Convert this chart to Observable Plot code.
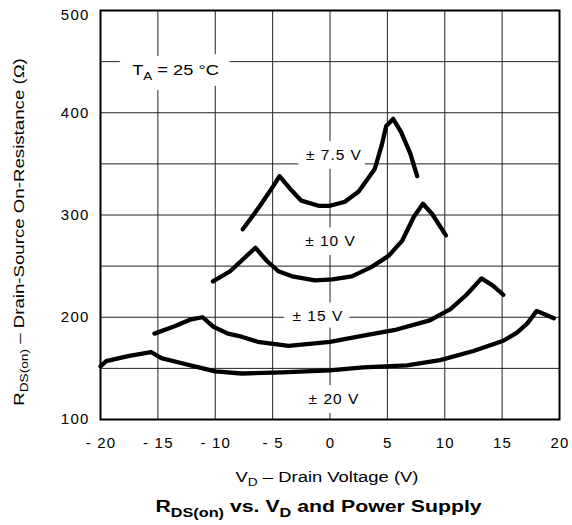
<!DOCTYPE html>
<html>
<head>
<meta charset="utf-8">
<script src="https://cdn.jsdelivr.net/npm/d3@7"></script>
<script src="https://cdn.jsdelivr.net/npm/@observablehq/plot@0.6"></script>
<style>
  body { margin: 0; background: #fff; }
  #chart svg { font-family: "Liberation Sans", Arial, Helvetica, sans-serif; }
</style>
</head>
<body>
<div id="chart"></div>
<script>
// ---- data ----
const v75 = [-7.6, -6.1, -4.9, -4.4, -3.5, -2.5, -1.0, 0.0, 1.3, 2.5, 3.9, 4.5, 4.9, 5.5, 6.2, 7.0, 7.6];
const r75 = [286, 309, 329, 338, 326, 314, 309, 309, 313, 323, 345, 368, 387, 394, 381, 360, 338];

const v10 = [-10.2, -8.7, -6.5, -5.5, -4.5, -3.3, -1.3, 0.2, 1.9, 3.6, 5.1, 6.3, 7.3, 8.1, 8.9, 10.1];
const r10 = [235, 245, 268, 255, 245, 240, 236, 237, 240, 249, 260, 275, 298, 311, 301, 280];

const v15 = [-15.3, -13.6, -12.1, -11.1, -10.2, -8.9, -7.7, -6.3, -3.6, 0.0, 2.9, 5.8, 8.7, 10.5, 11.9, 13.2, 14.2, 15.1];
const r15 = [184, 191, 198, 200, 191, 184, 181, 176, 172, 176, 182, 188, 197, 208, 222, 238, 231, 222];

const v20 = [-20.0, -19.5, -17.6, -15.6, -14.7, -12.9, -11.8, -10.0, -7.7, -4.2, 0.0, 2.9, 6.7, 9.6, 12.5, 15.1, 16.3, 17.2, 18.0, 18.7, 19.5];
const r20 = [152, 157, 162, 166, 160, 155, 152, 147, 145, 146, 148, 151, 153, 158, 167, 177, 185, 194, 206, 203, 199];

const seriesNames = ["± 7.5 V", "± 10 V", "± 15 V", "± 20 V"];
const labelV = [0.3, 0.0, -1.1, 0.3];
const labelR = [359, 275, 201, 120];

const xTicks = [-20, -15, -10, -5, 0, 5, 10, 15, 20];
const yTicks = [100, 200, 300, 400, 500];
const xGrid = [-15, -10, -5, 0, 5, 10, 15];
const yGrid = [150, 200, 250, 300, 350, 400, 450];

const tempLabel = {v: -17.2, r: 436};

// ---- build tables ----
const seriesV = [v75, v10, v15, v20];
const seriesR = [r75, r10, r15, r20];
const rows = seriesNames.flatMap((name, i) =>
  seriesV[i].map((v, j) => ({series: name, v, r: seriesR[i][j]})));
const labels = seriesNames.map((name, i) => ({label: name, v: labelV[i], r: labelR[i]}));

const fmtX = d => d < 0 ? "- " + (-d) : String(d);

const plot = Plot.plot({
  width: 572,
  height: 525,
  marginLeft: 100,
  marginRight: 13,
  marginTop: 10,
  marginBottom: 106,
  x: {domain: [-20, 20]},
  y: {domain: [100, 500]},
  style: {fontFamily: '"Liberation Sans", Arial, sans-serif', fontSize: "15px", color: "#000", background: "#fff"},
  marks: [
    Plot.ruleX(xGrid, {stroke: "#222", strokeWidth: 1}),
    Plot.ruleY(yGrid, {stroke: "#222", strokeWidth: 1}),
    Plot.text(labels, {x: "v", y: "r", text: "label", fill: "#000", stroke: "#fff", strokeWidth: 18,
      strokeLinejoin: "round", paintOrder: "stroke", fontSize: 15.5, dx: 0.5}),
    Plot.line(rows, {x: "v", y: "r", z: "series", stroke: "#000", strokeWidth: 4.3,
      strokeLinejoin: "round", strokeLinecap: "round", curve: "linear"}),
    Plot.frame({stroke: "#000", strokeWidth: 2}),
    Plot.axisX({ticks: xTicks, tickSize: 0, tickPadding: 18, tickFormat: fmtX, fontSize: 15, label: null, dx: 0.5}),
    Plot.axisY({ticks: yTicks.filter(d => d < 500), tickSize: 0, tickPadding: 11, fontSize: 15, label: null}),
    Plot.axisY({ticks: yTicks.filter(d => d === 500), tickSize: 0, tickPadding: 11, fontSize: 15, label: null, dy: 5})
  ]
});

document.getElementById("chart").appendChild(plot);

const svg = d3.select(plot);
const sx = plot.scale("x"), sy = plot.scale("y");

// widen Plot's own texts a little, as in the reference lettering
const xTickSet = new Set(xTicks.map(fmtX));
const yTickSet = new Set(yTicks.map(String));
const labelSet = new Set(seriesNames);
svg.selectAll("text").each(function () {
  const s = this.textContent;
  if (labelSet.has(s)) this.style.letterSpacing = "1px";
  else if (xTickSet.has(s) || yTickSet.has(s)) this.style.letterSpacing = "1.2px";
});

// ---- annotations with subscripts ----
function richText(parent, parts, opts) {
  const g = parent.append("text")
    .attr("x", 0).attr("y", 0)
    .attr("text-anchor", opts.anchor || "start")
    .attr("font-size", opts.size)
    .attr("font-weight", opts.weight || "normal");
  if (opts.halo) {
    g.attr("fill", "none").attr("stroke", "#fff").attr("stroke-width", opts.halo).attr("stroke-linejoin", "round");
  } else {
    g.attr("fill", "#000");
  }
  let shifted = false;
  for (const [s, sub] of parts) {
    const ts = g.append("tspan").text(s);
    if (sub) {
      ts.attr("font-size", opts.subSize);
      if (!shifted) { ts.attr("dy", opts.subDy); shifted = true; }
    } else if (shifted) { ts.attr("dy", -opts.subDy); shifted = false; }
  }
  // stretch to the measured width of the reference lettering
  const w = g.node().getBBox().width;
  const k = opts.width ? opts.width / w : 1;
  g.attr("transform", `${opts.base} scale(${k},1)`);
  return g;
}

// temperature label with white halo behind it
const tParts = [["T", false], ["A", true], [" = 25 °C", false]];
const tBase = `translate(${sx.apply(tempLabel.v)},${sy.apply(tempLabel.r)})`;
const tOpts = {size: 15, subSize: 11, subDy: 5, width: 87, base: tBase};
richText(svg, tParts, {...tOpts, halo: 22});
richText(svg, tParts, tOpts);

// y axis label
richText(svg, [["R", false], ["DS(on)", true], [" – Drain-Source On-Resistance (Ω)", false]],
  {anchor: "middle", size: 15, subSize: 11, subDy: 4, width: 348, base: "translate(24,232) rotate(-90)"});

// x axis label
richText(svg, [["V", false], ["D", true], [" – Drain Voltage (V)", false]],
  {anchor: "middle", size: 15.5, subSize: 11.5, subDy: 4, width: 183, base: "translate(327,482)"});

// title
richText(svg, [["R", false], ["DS(on)", true], [" vs. V", false], ["D", true], [" and Power Supply", false]],
  {anchor: "middle", size: 17, subSize: 13, subDy: 5, weight: "bold", width: 327, base: "translate(318.5,512)"});
</script>
</body>
</html>
